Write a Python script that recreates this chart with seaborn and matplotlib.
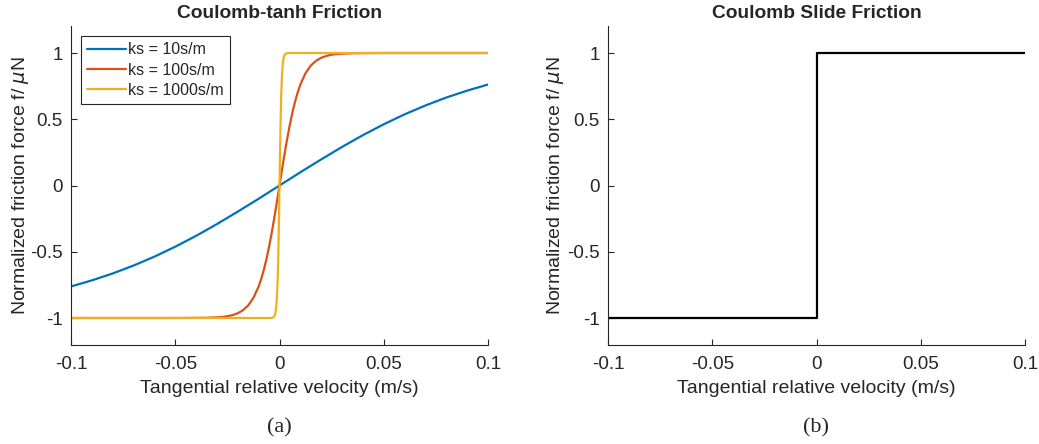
import numpy as np
import pandas as pd
import matplotlib
matplotlib.use("Agg")
import matplotlib.pyplot as plt
import seaborn as sns

# values (normalized friction force vs velocity)
v_10 = [-0.1, -0.09, -0.08, -0.07, -0.06, -0.05, -0.04, -0.03, -0.02, -0.01, 0.0,
        0.01, 0.02, 0.03, 0.04, 0.05, 0.06, 0.07, 0.08, 0.09, 0.1]
f_10 = [-0.762, -0.716, -0.664, -0.604, -0.537, -0.462, -0.380, -0.291, -0.197, -0.100, 0.0,
        0.100, 0.197, 0.291, 0.380, 0.462, 0.537, 0.604, 0.664, 0.716, 0.762]

v_100 = [-0.1, -0.05, -0.04, -0.035, -0.03, -0.0275, -0.025, -0.0225, -0.02, -0.0175, -0.015,
         -0.0125, -0.01, -0.00875, -0.0075, -0.00625, -0.005, -0.00375, -0.0025, -0.00125, 0.0,
         0.00125, 0.0025, 0.00375, 0.005, 0.00625, 0.0075, 0.00875, 0.01, 0.0125, 0.015,
         0.0175, 0.02, 0.0225, 0.025, 0.0275, 0.03, 0.035, 0.04, 0.05, 0.1]
f_100 = [-1.0, -1.0, -0.999, -0.998, -0.995, -0.992, -0.987, -0.978, -0.964, -0.941, -0.905,
         -0.848, -0.762, -0.704, -0.635, -0.555, -0.462, -0.358, -0.245, -0.124, 0.0,
         0.124, 0.245, 0.358, 0.462, 0.555, 0.635, 0.704, 0.762, 0.848, 0.905,
         0.941, 0.964, 0.978, 0.987, 0.992, 0.995, 0.998, 0.999, 1.0, 1.0]

v_1000 = [-0.1, -0.005, -0.004, -0.0035, -0.003, -0.00275, -0.0025, -0.00225, -0.002, -0.00175, -0.0015,
          -0.00125, -0.001, -0.000875, -0.00075, -0.000625, -0.0005, -0.000375, -0.00025, -0.000125, 0.0,
          0.000125, 0.00025, 0.000375, 0.0005, 0.000625, 0.00075, 0.000875, 0.001, 0.00125, 0.0015,
          0.00175, 0.002, 0.00225, 0.0025, 0.00275, 0.003, 0.0035, 0.004, 0.005, 0.1]
f_1000 = f_100

v_step = [-0.1, 0.0, 0.0, 0.1]
f_step = [-1.0, -1.0, 1.0, 1.0]

labels = ["ks = 10s/m", "ks = 100s/m", "ks = 1000s/m"]
colors = ["#0072BD", "#D95319", "#EDB120"]

tanh_df = pd.concat([
    pd.DataFrame({"v": v_10, "f": f_10, "ks": labels[0]}),
    pd.DataFrame({"v": v_100, "f": f_100, "ks": labels[1]}),
    pd.DataFrame({"v": v_1000, "f": f_1000, "ks": labels[2]}),
], ignore_index=True)
step_df = pd.DataFrame({"v": v_step, "f": f_step})

sns.set_style("white")
plt.rcParams["font.family"] = ["Liberation Sans", "DejaVu Sans"]
plt.rcParams["mathtext.fontset"] = "dejavusans"

fig = plt.figure(figsize=(10.39, 4.44), dpi=100)
ax1 = fig.add_axes([71 / 1039, 1 - 344.5 / 444, 417 / 1039, 318 / 444])
ax2 = fig.add_axes([608 / 1039, 1 - 344.5 / 444, 417 / 1039, 318 / 444])

sns.lineplot(data=tanh_df, x="v", y="f", hue="ks", palette=colors,
             estimator=None, sort=False, linewidth=1.6, ax=ax1)
sns.lineplot(data=step_df, x="v", y="f", color="black",
             estimator=None, sort=False, linewidth=1.6, ax=ax2)

gray = "#262626"
for ax, title, cap, ypad in [(ax1, "Coulomb-tanh Friction", "(a)", -0.5),
                             (ax2, "Coulomb Slide Friction", "(b)", 1)]:
    ax.set_xlim(-0.1, 0.1)
    ax.set_ylim(-1.2, 1.2)
    ax.set_xticks([-0.1, -0.05, 0, 0.05, 0.1])
    ax.set_xticklabels(["-0.1", "-0.05", "0", "0.05", "0.1"])
    ax.set_yticks([-1, -0.5, 0, 0.5, 1])
    ax.set_yticklabels(["-1", "-0.5", "0", "0.5", "1"])
    for s in ["top", "right"]:
        ax.spines[s].set_visible(False)
    for s in ["left", "bottom"]:
        ax.spines[s].set_color(gray)
        ax.spines[s].set_linewidth(0.8)
    ax.tick_params(direction="in", length=4, width=0.8, colors=gray,
                   labelsize=13.5, left=True, bottom=True)
    ax.tick_params(axis="y", pad=6)
    ax.tick_params(axis="x", pad=8)
    ax.set_xlabel("Tangential relative velocity (m/s)", fontsize=14, color=gray, labelpad=5)
    ax.set_ylabel(r"Normalized friction force f/ $\mu$N", fontsize=14, color=gray, labelpad=ypad)
    ax.set_title(title, fontsize=13.8, fontweight="bold", pad=6)
    ax.text(0.5, -0.263, cap, transform=ax.transAxes, ha="center", va="center",
            fontsize=16, family="Liberation Serif")

leg = ax1.legend(loc="upper left", bbox_to_anchor=(0.024, 0.97), borderaxespad=0,
                 fontsize=11.5, frameon=True, fancybox=False, edgecolor=gray, framealpha=1,
                 handlelength=2.4, handletextpad=0.15, borderpad=0.4, labelspacing=0.32)
leg.get_frame().set_linewidth(0.8)

fig.savefig("out.png", dpi=100)
